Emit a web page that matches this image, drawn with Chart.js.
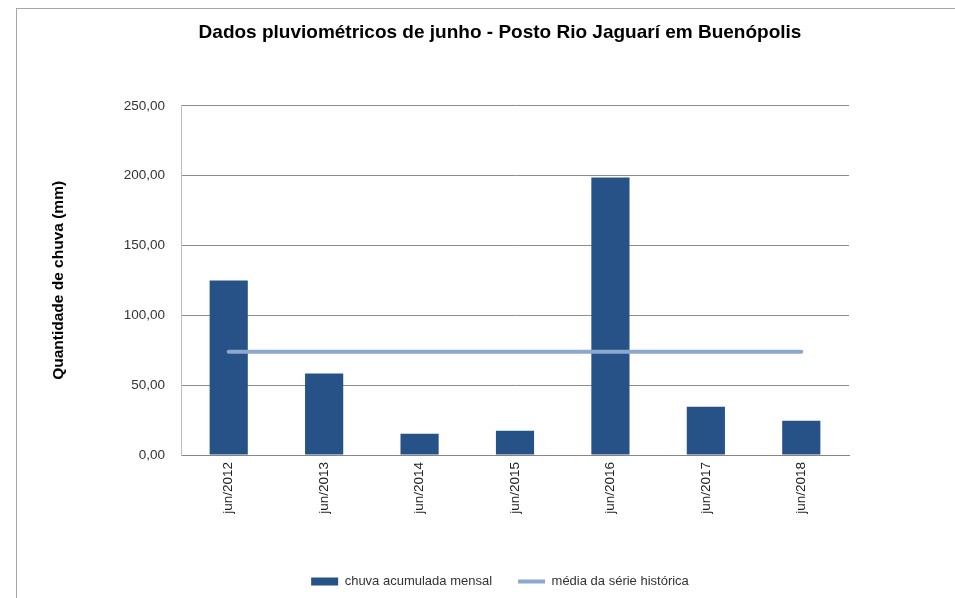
<!DOCTYPE html>
<html>
<head>
<meta charset="utf-8">
<script src="https://cdn.jsdelivr.net/npm/chart.js@4/dist/chart.umd.min.js"></script>
<style>
  html, body { margin: 0; padding: 0; background: #fff; overflow: hidden; }
  #wrap { position: relative; width: 955px; height: 598px; }
  #frame { position: absolute; left: 16px; top: 8px; width: 960px; height: 620px; border: 1px solid #a6a6a6; box-sizing: border-box; pointer-events: none; }
</style>
</head>
<body>
<div id="wrap">
  <canvas id="chart" width="955" height="598"></canvas>
  <div id="frame"></div>
</div>
<script>
  // dados
  var CATEGORIES = ['jun/2012', 'jun/2013', 'jun/2014', 'jun/2015', 'jun/2016', 'jun/2017', 'jun/2018'];
  var CHUVA_MENSAL = [125.0, 58.3, 15.2, 17.4, 198.6, 34.6, 24.6];
  var MEDIA_HISTORICA = [74.0, 74.0, 74.0, 74.0, 74.0, 74.0, 74.0];
  var Y_MIN = 0, Y_MAX = 250, Y_STEP = 50;

  var FONT = "'Liberation Sans', Arial, sans-serif";
  var COR_BARRA = '#265287';
  var COR_LINHA = '#8da8cf';

  function fmt(v) { return Number(v).toFixed(2).replace('.', ','); }

  new Chart(document.getElementById('chart'), {
    type: 'bar',
    data: {
      labels: CATEGORIES,
      datasets: [{
        label: 'chuva acumulada mensal',
        data: CHUVA_MENSAL,
        backgroundColor: COR_BARRA,
        barPercentage: 0.4,
        categoryPercentage: 1,
        order: 1
      }, {
        type: 'line',
        label: 'média da série histórica',
        data: MEDIA_HISTORICA,
        borderColor: COR_LINHA,
        backgroundColor: COR_LINHA,
        borderWidth: 4,
        borderCapStyle: 'round',
        pointRadius: 0,
        fill: false,
        order: 0
      }]
    },
    options: {
      responsive: false,
      animation: false,
      layout: { padding: { top: 21, left: 49, right: 4, bottom: 0 } },
      plugins: {
        title: {
          display: true,
          text: 'Dados pluviométricos de junho - Posto Rio Jaguarí em Buenópolis',
          color: '#000',
          font: { family: FONT, size: 19, weight: 'bold' },
          padding: { top: 0, bottom: 62 }
        },
        legend: {
          position: 'bottom',
          labels: {
            usePointStyle: true,
            pointStyleWidth: 27,
            boxWidth: 27,
            boxHeight: 8,
            padding: 26,
            color: '#333',
            font: { family: FONT, size: 13 },
            generateLabels: function (chart) {
              return chart.data.datasets.map(function (ds, i) {
                var isLine = ds.type === 'line';
                return {
                  text: ds.label,
                  datasetIndex: i,
                  pointStyle: isLine ? 'line' : 'rect',
                  fillStyle: isLine ? COR_LINHA : COR_BARRA,
                  strokeStyle: isLine ? COR_LINHA : COR_BARRA,
                  lineWidth: isLine ? 4 : 0,
                  fontColor: '#333'
                };
              });
            }
          }
        },
        tooltip: { enabled: false }
      },
      scales: {
        x: {
          grid: { display: false, drawTicks: false },
          border: { display: true, color: '#868686', width: 1 },
          ticks: {
            minRotation: 90,
            maxRotation: 90,
            padding: 7,
            color: '#222',
            font: { family: FONT, size: 13.5 }
          },
          afterFit: function (s) { s.height = 94; }
        },
        y: {
          min: Y_MIN,
          max: Y_MAX,
          ticks: {
            stepSize: Y_STEP,
            padding: 16,
            color: '#333',
            font: { family: FONT, size: 13.5 },
            callback: function (v) { return fmt(v); }
          },
          grid: { color: '#8c8c8c', lineWidth: 1, drawTicks: false },
          border: { display: true, color: '#bdbdbd', width: 1 },
          title: {
            display: true,
            text: 'Quantidade de chuva (mm)',
            color: '#000',
            font: { family: FONT, size: 15.5, weight: 'bold' },
            padding: { top: 0, bottom: 0 }
          },
          afterFit: function (s) { s.width = 132; }
        },
        y2: {
          position: 'right',
          display: true,
          grid: { display: false, drawTicks: false },
          border: { display: false },
          ticks: { display: false },
          afterFit: function (s) { s.width = 102; }
        }
      }
    }
  });
</script>
</body>
</html>
